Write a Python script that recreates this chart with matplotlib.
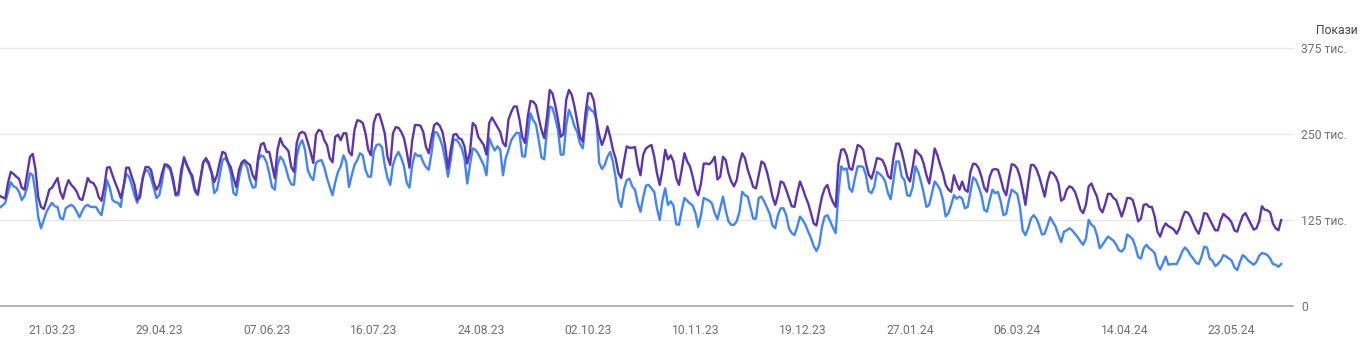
import pandas as pd
import matplotlib
matplotlib.use('Agg')
import matplotlib.pyplot as plt

plt.rcParams['font.family'] = ['Roboto', 'DejaVu Sans']

start_date = '2023-03-02'

# x labels every 39 days
tick_labels = ['21.03.23', '29.04.23', '07.06.23', '16.07.23', '24.08.23', '02.10.23',
               '10.11.23', '19.12.23', '27.01.24', '06.03.24', '14.04.24', '23.05.24']
y_ticks = [0, 125, 250, 375]
y_labels = ['0', '125 тис.', '250 тис.', '375 тис.']
y_title = 'Покази'

# daily values, thousands (first two days, then weeks Sat..Fri)
series_purple = [
    160, 158,
    156, 179, 195, 192, 188, 185, 172,
    169, 193, 217, 221, 198, 158, 144,
    141, 154, 169, 172, 179, 186, 166,
    156, 172, 183, 176, 172, 166, 156,
    154, 169, 186, 180, 179, 172, 158,
    153, 173, 201, 202, 190, 179, 169,
    157, 173, 201, 201, 188, 176, 154,
    158, 186, 202, 202, 198, 180, 169,
    176, 193, 206, 205, 201, 186, 161,
    166, 198, 215, 205, 195, 190, 169,
    163, 186, 209, 215, 208, 195, 180,
    190, 209, 224, 222, 209, 202, 186,
    173, 198, 209, 212, 208, 205, 190,
    183, 217, 235, 237, 224, 224, 205,
    186, 227, 244, 234, 230, 225, 202,
    195, 237, 251, 253, 251, 238, 224,
    208, 249, 256, 254, 241, 234, 215,
    209, 246, 249, 241, 251, 251, 224,
    219, 256, 270, 269, 266, 251, 227,
    219, 266, 278, 279, 266, 251, 217,
    205, 251, 260, 259, 253, 244, 224,
    201, 241, 263, 263, 262, 253, 231,
    222, 244, 263, 266, 262, 253, 232,
    200, 227, 249, 250, 244, 242, 232,
    207, 224, 266, 262, 246, 240, 234,
    220, 266, 274, 267, 260, 253, 237,
    232, 271, 282, 290, 290, 271, 246,
    237, 275, 298, 297, 292, 273, 256,
    244, 275, 314, 309, 292, 271, 246,
    250, 300, 314, 307, 290, 268, 246,
    239, 280, 309, 309, 299, 270, 248,
    234, 245, 261, 246, 227, 214, 193,
    186, 210, 232, 230, 230, 231, 205,
    190, 220, 229, 232, 234, 217, 193,
    176, 198, 227, 213, 219, 210, 186,
    176, 198, 222, 210, 203, 188, 169,
    161, 178, 207, 207, 206, 210, 217,
    184, 188, 217, 212, 193, 181, 174,
    183, 207, 222, 215, 198, 186, 173,
    171, 190, 210, 207, 195, 178, 159,
    147, 161, 181, 179, 169, 157, 145,
    144, 164, 181, 171, 159, 149, 135,
    120, 117, 139, 159, 171, 176, 161,
    151, 144, 207, 227, 228, 219, 200,
    198, 217, 234, 232, 227, 207, 191,
    185, 198, 215, 214, 212, 203, 189,
    185, 215, 236, 236, 224, 207, 188,
    181, 202, 227, 222, 218, 207, 190,
    178, 202, 229, 219, 205, 193, 176,
    169, 166, 190, 178, 169, 181, 169,
    166, 195, 207, 206, 200, 188, 172,
    166, 188, 198, 199, 198, 185, 169,
    161, 185, 206, 205, 200, 188, 169,
    147, 178, 205, 205, 199, 188, 174,
    159, 181, 195, 193, 188, 178, 153,
    156, 169, 174, 172, 166, 154, 140,
    135, 147, 174, 178, 168, 159, 142,
    136, 148, 163, 163, 157, 154, 142,
    130, 142, 157, 157, 154, 140, 123,
    127, 147, 148, 144, 144, 130, 108,
    101, 113, 120, 116, 114, 111, 105,
    113, 127, 137, 136, 130, 120, 111,
    105, 118, 135, 134, 126, 118, 110,
    110, 125, 134, 130, 127, 121, 110,
    108, 120, 131, 135, 127, 119, 111,
    113, 123, 145, 140, 139, 136, 120,
    113, 110, 125,
]

series_blue = [
    143, 146,
    150, 166, 180, 174, 172, 166, 154,
    160, 173, 193, 190, 164, 129, 113,
    125, 137, 144, 150, 145, 144, 128,
    126, 142, 145, 147, 144, 137, 129,
    138, 145, 147, 144, 144, 144, 137,
    132, 154, 183, 172, 154, 151, 150,
    144, 173, 192, 188, 176, 161, 150,
    166, 186, 198, 196, 186, 172, 157,
    161, 180, 205, 202, 198, 180, 161,
    161, 188, 217, 205, 198, 183, 166,
    161, 183, 209, 212, 205, 193, 164,
    169, 190, 212, 215, 208, 193, 164,
    161, 186, 205, 209, 201, 183, 172,
    173, 212, 219, 217, 209, 193, 173,
    169, 205, 217, 212, 201, 186, 177,
    176, 217, 234, 241, 227, 198, 188,
    183, 208, 211, 212, 202, 186, 173,
    161, 180, 195, 203, 219, 209, 173,
    190, 205, 212, 222, 219, 198, 188,
    188, 224, 234, 235, 231, 205, 186,
    176, 205, 217, 224, 215, 203, 179,
    172, 205, 222, 218, 219, 209, 202,
    198, 222, 253, 252, 244, 232, 212,
    188, 212, 241, 242, 237, 229, 215,
    178, 205, 229, 227, 221, 213, 205,
    190, 244, 234, 226, 232, 227, 190,
    215, 227, 241, 247, 252, 251, 218,
    217, 249, 280, 270, 264, 241, 216,
    213, 256, 290, 288, 273, 256, 220,
    220, 263, 285, 275, 261, 253, 236,
    229, 266, 290, 285, 282, 270, 208,
    199, 205, 217, 224, 209, 186, 154,
    144, 169, 183, 185, 174, 169, 150,
    137, 158, 175, 176, 171, 166, 142,
    125, 154, 171, 147, 152, 146, 119,
    118, 139, 157, 153, 149, 146, 135,
    115, 132, 157, 155, 153, 149, 135,
    126, 142, 159, 139, 123, 118, 118,
    123, 137, 166, 161, 159, 143, 127,
    127, 157, 159, 152, 143, 134, 117,
    113, 132, 142, 142, 132, 113, 106,
    103, 115, 130, 125, 118, 108, 99,
    87, 80, 89, 115, 130, 132, 123,
    114, 106, 164, 203, 198, 200, 171,
    166, 186, 203, 203, 202, 190, 167,
    164, 173, 195, 192, 188, 181, 164,
    155, 183, 210, 210, 188, 183, 161,
    160, 173, 203, 195, 181, 164, 144,
    147, 164, 181, 176, 169, 154, 130,
    135, 147, 161, 156, 159, 156, 142,
    144, 166, 187, 183, 173, 161, 140,
    137, 154, 169, 164, 166, 152, 132,
    134, 154, 169, 166, 163, 144, 110,
    103, 113, 127, 132, 127, 117, 104,
    105, 117, 129, 122, 115, 103, 93,
    108, 110, 113, 110, 105, 100, 94,
    89, 98, 125, 118, 115, 103, 84,
    89, 95, 101, 98, 95, 89, 81,
    79, 84, 104, 101, 97, 86, 71,
    69, 84, 89, 84, 81, 77, 60,
    53, 62, 72, 60, 61, 61, 61,
    69, 79, 85, 81, 74, 69, 63,
    61, 71, 86, 85, 69, 66, 58,
    61, 66, 74, 72, 69, 66, 56,
    52, 64, 74, 71, 66, 63, 60,
    64, 73, 77, 76, 74, 69, 61,
    60, 57, 61,
]

dates = pd.date_range(start_date, periods=len(series_purple), freq='D')
tick_dates = pd.to_datetime(tick_labels, format='%d.%m.%y')

W, H = 1367, 349
fig = plt.figure(figsize=(W / 100, H / 100), dpi=100)
ax = fig.add_axes([0, 1 - 306 / H, 1293 / W, (306 - 48) / H])

ax.plot(dates, series_blue, color='#4285f4', lw=1.7, solid_joinstyle='round')
ax.plot(dates, series_purple, color='#5e35b1', lw=1.7, solid_joinstyle='round')

ax.set_ylim(0, 375)
ax.set_xlim(dates[0] + pd.Timedelta(hours=2), dates[0] + pd.Timedelta(days=470.3))

for v in y_ticks[1:]:
    ax.axhline(v, color='#e6e6e6', lw=1, zorder=0, clip_on=False)
ax.axhline(0, color='#9e9e9e', lw=1.1, zorder=3, clip_on=False)

for s in ax.spines.values():
    s.set_visible(False)

ax.yaxis.tick_right()
ax.set_yticks(y_ticks)
ax.set_yticklabels(y_labels)
ax.tick_params(axis='y', length=0, pad=6, labelsize=8.7, labelcolor='#707070')

ax.set_xticks(tick_dates)
ax.set_xticklabels(tick_labels)
ax.tick_params(axis='x', length=0, pad=13, labelsize=8.7, labelcolor='#707070')

fig.text(1358 / W, 1 - 30 / H, y_title, ha='right', va='center', fontsize=8.7, color='#444444')

fig.savefig('out.png', dpi=100)
